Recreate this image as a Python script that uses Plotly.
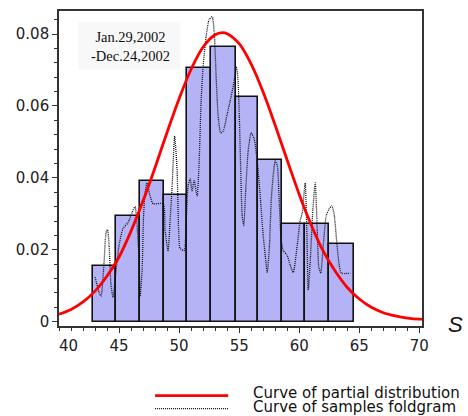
import plotly.graph_objects as go

# ---- data ----
bin_edges = [42.8, 44.75, 46.75, 48.78, 50.64, 52.67, 54.72, 56.6, 58.6, 60.5, 62.5, 64.56]
freq = [0.0155, 0.0295, 0.039, 0.0353, 0.0705, 0.0764, 0.0625, 0.045, 0.0272, 0.0272, 0.0215]

curve_x = [40, 41, 42, 43, 44, 45, 46, 47, 48, 49, 50, 51, 52, 53, 53.6, 54, 55, 56, 57, 58,
           59, 60, 61, 62, 63, 64, 65, 66, 67, 68, 69, 70, 70.22]
curve_y = [0.0021, 0.0034, 0.0055, 0.0085, 0.0127, 0.0180, 0.0252, 0.0336, 0.0429, 0.0527,
           0.0620, 0.0702, 0.0764, 0.0798, 0.0804, 0.0801, 0.0773, 0.0716, 0.0638, 0.0546,
           0.0449, 0.0354, 0.0269, 0.0196, 0.0140, 0.0095, 0.0063, 0.0040, 0.0025, 0.0016,
           0.0010, 0.0007, 0.0007]

fold_x = [43.0, 43.33, 43.5, 43.75, 43.92, 44.04, 44.17, 44.33, 44.5, 44.75, 45.0, 45.33, 45.75,
          46.08, 46.33, 46.5, 46.67, 46.75, 46.92, 47.04, 47.17, 47.33, 47.58, 47.83, 48.67,
          48.83, 49.08, 49.25, 49.42, 49.63, 49.83, 49.96, 50.08, 50.42, 50.58, 50.75, 50.92,
          51.08, 51.25, 51.5, 51.67, 51.83, 52.0, 52.25, 52.5, 52.75, 52.92, 53.08, 53.25,
          53.46, 53.67, 54.0, 54.33, 54.58, 54.75, 54.88, 55.0, 55.13, 55.25, 55.38, 55.54,
          55.75, 56.0, 56.25, 56.5, 56.75, 57.0, 57.21, 57.33, 57.5, 57.67, 57.83, 58.0, 58.17,
          58.33, 58.5, 58.67, 59.0, 59.25, 59.5, 59.83, 60.08, 60.25, 60.42, 60.5, 60.63, 60.75,
          60.92, 61.13, 61.33, 61.5, 61.63, 61.79, 62.0, 62.25, 62.5, 62.71, 62.92, 63.13,
          63.33, 63.5, 64.25]
fold_y = [0.0124, 0.0082, 0.0071, 0.0165, 0.0248, 0.0256, 0.0212, 0.0102, 0.0068, 0.0143,
          0.0212, 0.0259, 0.0276, 0.0303, 0.0320, 0.0267, 0.0171, 0.0071, 0.0143, 0.0295,
          0.0359, 0.0386, 0.0350, 0.0328, 0.0328, 0.0254, 0.0198, 0.0281, 0.0378, 0.0516,
          0.0420, 0.0254, 0.0204, 0.0198, 0.0276, 0.0378, 0.0397, 0.0364, 0.0392, 0.0350,
          0.0447, 0.0613, 0.0710, 0.0793, 0.0840, 0.0848, 0.0807, 0.0682, 0.0572, 0.0525,
          0.0530, 0.0577, 0.0627, 0.0669, 0.0710, 0.0682, 0.0586, 0.0420, 0.0295, 0.0267,
          0.0364, 0.0475, 0.0525, 0.0508, 0.0447, 0.0350, 0.0240, 0.0171, 0.0137, 0.0198,
          0.0337, 0.0406, 0.0447, 0.0434, 0.0337, 0.0226, 0.0198, 0.0184, 0.0157, 0.0137,
          0.0212, 0.0281, 0.0303, 0.0364, 0.0386, 0.0254, 0.0088, 0.0171, 0.0309, 0.0386,
          0.0254, 0.0151, 0.0135, 0.0212, 0.0295, 0.0314, 0.0323, 0.0295, 0.0218, 0.0157,
          0.0135, 0.0135]

x_ticks = [45, 50, 55, 60, 65, 70]
y_ticks = [0, 0.02, 0.04, 0.06, 0.08]
y_tick_text = ["0", "0.02", "0.04", "0.06", "0.08"]

legend_labels = ["Curve of partial distribution", "Curve of samples foldgram"]
date_text = "Jan.29,2002<br>-Dec.24,2002"

# ---- build figure ----
centers = [(a + b) / 2 for a, b in zip(bin_edges[:-1], bin_edges[1:])]
widths = [b - a for a, b in zip(bin_edges[:-1], bin_edges[1:])]

DOT = "1px,1px"

fig = go.Figure()
fig.add_trace(go.Bar(x=centers, y=freq, width=widths,
                     marker=dict(color="#b3b3f6", line=dict(color="#111111", width=1.6)),
                     showlegend=False))
fig.add_trace(go.Scatter(x=fold_x, y=fold_y, mode="lines",
                         line=dict(color="#111111", width=1.3, dash=DOT, shape="spline", smoothing=0.6),
                         showlegend=False))
fig.add_trace(go.Scatter(x=curve_x, y=curve_y, mode="lines",
                         line=dict(color="#ff0000", width=2.8, shape="spline"),
                         showlegend=False))

axis_font = dict(family="DejaVu Sans", size=15, color="#222222")

fig.update_layout(
    width=468, height=416,
    margin=dict(l=59, r=46, t=9, b=90),
    paper_bgcolor="white", plot_bgcolor="white",
    bargap=0,
    xaxis=dict(range=[40, 70.22], tickmode="array", tickvals=x_ticks,
               ticktext=[str(v) for v in x_ticks],
               ticks="outside", ticklen=5, tickwidth=1.2, tickcolor="#333",
               minor=dict(dtick=1, ticks="outside", ticklen=3, tickcolor="#333", tickwidth=1),
               showgrid=False, zeroline=False,
               showline=True, linecolor="#333", linewidth=1.6, mirror=True,
               tickfont=axis_font),
    yaxis=dict(range=[-0.0012, 0.0864], tickmode="array", tickvals=y_ticks, ticktext=y_tick_text,
               ticks="outside", ticklen=5, tickwidth=1.2, tickcolor="#333",
               minor=dict(dtick=0.004, ticks="outside", ticklen=3, tickcolor="#333", tickwidth=1),
               showgrid=False, zeroline=False,
               showline=True, linecolor="#333", linewidth=1.6, mirror=True,
               tickfont=axis_font),
)

# label "40" drawn shifted as in the reference
fig.add_annotation(x=40, y=0, xref="x", yref="paper", yshift=-9, xshift=9,
                   text="40", showarrow=False, xanchor="center", yanchor="top", font=axis_font)

# faint box behind the date text
fig.add_shape(type="rect", xref="paper", yref="paper",
              x0=(78 - 59) / 362.7, x1=(180 - 59) / 362.7,
              y0=(326 - 68) / 316.7, y1=(326 - 20) / 316.7,
              fillcolor="#f8f8f8", line=dict(width=0), layer="below")
fig.add_annotation(x=(130.5 - 59) / 362.7, y=(326 - 44.5) / 316.7, xref="paper", yref="paper",
                   text=date_text, showarrow=False, xanchor="center", yanchor="middle",
                   font=dict(family="Liberation Serif", size=14.5, color="#111"))

# axis name
fig.add_annotation(x=(455.5 - 59) / 362.7, y=(326 - 324) / 316.7, xref="paper", yref="paper",
                   text="<i>S</i>", showarrow=False, xanchor="center", yanchor="middle",
                   font=dict(family="Liberation Sans", size=22, color="#111"))

# manual legend
for i, (lab, col, dash, w) in enumerate(zip(legend_labels, ["#ff0000", "#111111"],
                                            ["solid", DOT], [2.8, 1.2])):
    ly = [396, 409][i]
    ty = [393, 407][i]
    fig.add_shape(type="line", xref="paper", yref="paper",
                  x0=(155 - 59) / 362.7, x1=(228 - 59) / 362.7,
                  y0=(326 - ly) / 316.7, y1=(326 - ly) / 316.7,
                  line=dict(color=col, width=w, dash=dash))
    fig.add_annotation(x=(251 - 59) / 362.7, y=(326 - ty) / 316.7, xref="paper", yref="paper",
                       text=lab, showarrow=False, xanchor="left", yanchor="middle",
                       font=dict(family="DejaVu Sans", size=15, color="#111"))

fig.write_html("out.html", config={"displayModeBar": False},
               post_script="document.body.style.margin='0px';")
